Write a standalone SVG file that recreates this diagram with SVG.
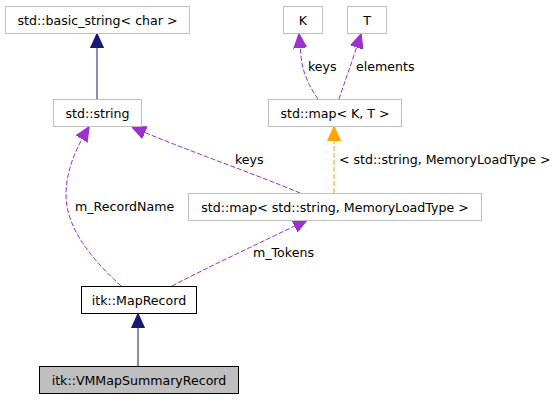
<svg xmlns="http://www.w3.org/2000/svg" width="557" height="400" viewBox="0 0 557 400">
<defs>
<style>
text{font-family:"DejaVu Sans",sans-serif;font-size:12.6px;fill:#000}
.n rect{fill:#fff;stroke:#bfbfbf;stroke-width:1}
.n text{text-anchor:middle}
.inh{fill:none;stroke:#191970;stroke-width:1}
.use{fill:none;stroke:#9a32cd;stroke-width:1;stroke-dasharray:5,2}
.tpl{fill:none;stroke:#ffa500;stroke-width:1;stroke-dasharray:5,2}
</style>
<marker id="aN" viewBox="0 0 10 10" refX="10" refY="5" markerWidth="14" markerHeight="14" markerUnits="userSpaceOnUse" orient="auto"><path d="M0,0.5 L10,5 L0,9.5 Z" fill="#191970" stroke="#191970"/></marker>
<marker id="aP" viewBox="0 0 10 10" refX="10" refY="5" markerWidth="14" markerHeight="14" markerUnits="userSpaceOnUse" orient="auto"><path d="M0,0.5 L10,5 L0,9.5 Z" fill="#9a32cd" stroke="#9a32cd"/></marker>
<marker id="aO" viewBox="0 0 10 10" refX="10" refY="5" markerWidth="14" markerHeight="14" markerUnits="userSpaceOnUse" orient="auto"><path d="M0,0.5 L10,5 L0,9.5 Z" fill="#ffa500" stroke="#ffa500"/></marker>
</defs>
<rect width="557" height="400" fill="#fff"/>
<g id="edges">
<path class="inh" d="M97,99 L97,34" marker-end="url(#aN)"/>
<path class="inh" d="M138,367 L138,314" marker-end="url(#aN)"/>
<path class="use" d="M318,99 C310,88 302,72 301,56 L299,34" marker-end="url(#aP)"/>
<path class="use" d="M339,99 C344,84 352,62 361,34" marker-end="url(#aP)"/>
<path class="tpl" d="M334,193 L334,127" marker-end="url(#aO)"/>
<path class="use" d="M300,193 C250,172 180,148 132,127" marker-end="url(#aP)"/>
<path class="use" d="M121,286 C95,262 66,230 66,195 C66,170 76,148 89,127" marker-end="url(#aP)"/>
<path class="use" d="M172,286 C210,266 260,243 307,220" marker-end="url(#aP)"/>
<text x="308" y="71">keys</text>
<text x="356" y="71">elements</text>
<text x="339" y="164">&lt; std::string, MemoryLoadType &gt;</text>
<text x="235" y="164">keys</text>
<text x="75" y="211">m_RecordName</text>
<text x="253" y="257">m_Tokens</text>
</g>
<g id="basic_string" class="n"><rect x="5.5" y="6.5" width="184" height="27"/><text x="97.5" y="24.5">std::basic_string&lt; char &gt;</text></g>
<g id="string" class="n"><rect x="53.5" y="99.5" width="88" height="27"/><text x="97.5" y="117.5">std::string</text></g>
<g id="K" class="n"><rect x="283.5" y="6.5" width="39" height="27"/><text x="303" y="24.5">K</text></g>
<g id="T" class="n"><rect x="347.5" y="6.5" width="39" height="27"/><text x="367" y="24.5">T</text></g>
<g id="mapKT" class="n"><rect x="268.5" y="99.5" width="133" height="27"/><text x="335" y="117.5">std::map&lt; K, T &gt;</text></g>
<g id="mapStr" class="n"><rect x="188.5" y="193.5" width="293" height="27"/><text x="335" y="211.5">std::map&lt; std::string, MemoryLoadType &gt;</text></g>
<g id="MapRecord" class="n"><rect x="81.5" y="286.5" width="115" height="27" style="stroke:#000"/><text x="139" y="304.5">itk::MapRecord</text></g>
<g id="VMMap" class="n"><rect x="39.5" y="366.5" width="199" height="27" style="fill:#bfbfbf;stroke:#000"/><text x="139" y="384.5">itk::VMMapSummaryRecord</text></g>
</svg>
